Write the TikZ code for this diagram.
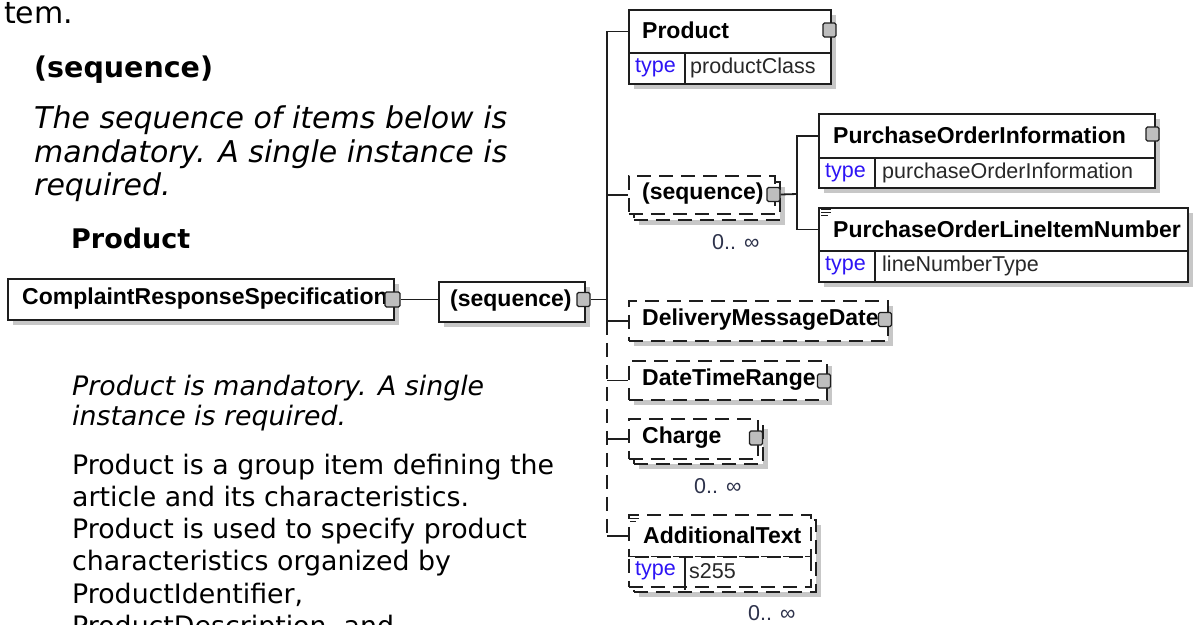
\documentclass[tikz,border=0pt]{standalone}
\usepackage{fontspec}
\setmainfont{DejaVu Sans}
\newfontfamily\dia{Liberation Sans}
\usetikzlibrary{shadows}
\definecolor{typeblue}{RGB}{45,20,245}
\definecolor{valcol}{RGB}{40,40,40}
\definecolor{occcol}{RGB}{45,50,75}
\definecolor{edge}{RGB}{30,30,30}
\definecolor{btnfill}{RGB}{190,190,190}
\tikzset{
  box/.style={draw=edge, line width=1.8pt, fill=white, inner sep=0pt, anchor=north west},
  dbox/.style={box, dash pattern=on 14pt off 8pt},
  shd/.style={drop shadow={shadow xshift=5pt, shadow yshift=-5pt, fill=black!22, opacity=1, draw=none}},
  btn/.style={draw=edge, line width=1.3pt, fill=btnfill, rounded corners=1.5pt, minimum width=13pt, minimum height=14pt, inner sep=0pt},
  lbl/.style={font=\dia\bfseries\fontsize{23}{27}\selectfont, anchor=west, inner sep=0pt},
  typ/.style={font=\dia\fontsize{21.5}{25}\selectfont, text=typeblue, anchor=west, inner sep=0pt},
  val/.style={font=\dia\fontsize{21.5}{25}\selectfont, text=valcol, anchor=west, inner sep=0pt},
  occ/.style={font=\dia\fontsize{21.5}{25}\selectfont, text=occcol, anchor=west, inner sep=0pt},
  conn/.style={draw=edge, line width=1.8pt},
  dconn/.style={conn, dash pattern=on 14pt off 8pt},
  divl/.style={draw=edge, line width=1.8pt},
  docl/.style={draw=edge, line width=0.9pt},
  txt/.style={anchor=base west, inner sep=0pt},
  body/.style={txt, font=\fontsize{26.8}{32}\selectfont},
  ibody/.style={txt, font=\itshape\fontsize{26.8}{30}\selectfont},
  itop/.style={txt, font=\itshape\fontsize{30}{33}\selectfont},
  head/.style={txt, font=\bfseries\fontsize{27}{32}\selectfont}
}
\begin{document}
\begin{tikzpicture}[x=1pt, y=-1pt]
\useasboundingbox (0,0) rectangle (1193,624);
\fill[white] (0,0) rectangle (1193,624);
\clip (0,0) rectangle (1193,624);

% ---------- left column text ----------
\node[txt, font=\fontsize{30}{34}\selectfont] (t0) at (4,23) {tem.};
\node[head, font=\bfseries\fontsize{28.5}{32}\selectfont] (h1) at (34,77) {(sequence)};
\node[itop] (i1) at (34,128) {The sequence of items below is};
\node[itop] (i2) at (34,162) {mandatory. A single instance is};
\node[itop] (i3) at (34,195) {required.};
\node[head] (h2) at (71,248) {Product};
\node[ibody] (j1) at (72,395) {Product is mandatory. A single};
\node[ibody] (j2) at (72,425) {instance is required.};
\node[body] (b1) at (72,474) {Product is a group item defining the};
\node[body] (b2) at (72,506) {article and its characteristics.};
\node[body] (b3) at (72,538) {Product is used to specify product};
\node[body] (b4) at (72,570) {characteristics organized by};
\node[body] (b5) at (72,603) {ProductIdentifier,};
\node[body] (b6) at (72,635) {ProductDescription, and};

% ---------- root element ----------
\node[box, shd, minimum width=386pt, minimum height=41pt] (crs) at (7,278) {};
\node[lbl] (crsL) at (22,299) {ComplaintResponseSpecification};
\node[btn, minimum width=15pt, minimum height=15pt] (crsB) at (392.5,299.5) {};

% ---------- outer sequence ----------
\node[box, shd, minimum width=146pt, minimum height=40pt] (seq1) at (438,281) {};
\node[lbl] (seq1L) at (450,301) {(sequence)};
\node[btn] (seq1B) at (583.5,299.5) {};
\draw[conn] (crsB.east) -- (crsB.east -| seq1.west);

% ---------- trunk ----------
\coordinate (tj) at (607,300);
\draw[conn] (seq1B.east) -- (seq1B.east -| tj);

% ---------- Product ----------
\node[box, shd, minimum width=202pt, minimum height=43pt] (prod) at (628,9) {};
\node[box, shd, minimum width=202pt, minimum height=31pt] (prodT) at (628,52) {};
\draw[divl] (685,52) -- (685,83);
\node[lbl] (prodL) at (642,30.5) {Product};
\node[typ] (prodTy) at (635,68) {type};
\node[val] (prodV) at (690,68) {productClass};
\node[btn] (prodB) at (829.5,30) {};

% ---------- inner sequence (0..inf) ----------
\node[dbox, shd, minimum width=146pt, minimum height=38pt] (seq2b) at (633,181) {};
\node[dbox, minimum width=146pt, minimum height=38pt] (seq2) at (628,175) {};
\node[lbl] (seq2L) at (642,194) {(sequence)};
\node[btn] (seq2B) at (773.5,194.5) {};
\node[occ] (seq2O) at (712,242) {0.. ∞};
\coordinate (br) at (797,194);
\draw[conn] (seq2B.east) -- (br);

% ---------- PurchaseOrderInformation ----------
\node[box, shd, minimum width=336pt, minimum height=44pt] (poi) at (818,113) {};
\node[box, shd, minimum width=336pt, minimum height=30pt] (poiT) at (818,157) {};
\draw[divl] (875,157) -- (875,187);
\node[lbl] (poiL) at (833,135) {PurchaseOrderInformation};
\node[typ] (poiTy) at (825,172.5) {type};
\node[val] (poiV) at (882,172.5) {purchaseOrderInformation};
\node[btn] (poiB) at (1152.5,134) {};

% ---------- PurchaseOrderLineItemNumber ----------
\node[box, shd, minimum width=369pt, minimum height=43pt] (poli) at (818,207) {};
\node[box, shd, minimum width=369pt, minimum height=31pt] (poliT) at (818,250) {};
\draw[divl] (875,250) -- (875,281);
\draw[docl] (821,209.5) -- (831,209.5) (821,212.5) -- (831,212.5) (821,215.5) -- (828,215.5);
\node[lbl] (poliL) at (833,229) {PurchaseOrderLineItemNumber};
\node[typ] (poliTy) at (825,266) {type};
\node[val] (poliV) at (882,266) {lineNumberType};

\draw[conn] (poi.west) -| (br) |- (poli.west);

% ---------- DeliveryMessageDate ----------
\node[dbox, shd, minimum width=259pt, minimum height=40pt] (dmd) at (628,300) {};
\node[lbl] (dmdL) at (642,320) {DeliveryMessageDate};
\node[btn] (dmdB) at (885,319.5) {};

% ---------- DateTimeRange ----------
\node[dbox, shd, minimum width=198pt, minimum height=39pt] (dtr) at (628,360) {};
\node[lbl] (dtrL) at (642,380) {DateTimeRange};
\node[btn] (dtrB) at (824,381) {};

% ---------- Charge (0..inf) ----------
\node[dbox, shd, minimum width=129pt, minimum height=40pt] (chgb) at (633,423) {};
\node[dbox, minimum width=129pt, minimum height=40pt] (chg) at (628,418) {};
\node[lbl] (chgL) at (642,438) {Charge};
\node[btn] (chgB) at (756,438) {};
\node[occ] (chgO) at (694,486) {0.. ∞};

% ---------- AdditionalText (0..inf) ----------
\node[dbox, shd, minimum width=182pt, minimum height=72pt] (atb) at (633,519) {};
\node[dbox, minimum width=182pt, minimum height=42pt] (at) at (628,514) {};
\node[dbox, minimum width=182pt, minimum height=30pt] (atT) at (628,556) {};
\draw[divl] (685,556) -- (685,590);
\draw[docl] (630,515.5) -- (639,515.5) (630,518.5) -- (639,518.5) (630,521.5) -- (636,521.5);
\node[lbl] (atL) at (643,535) {AdditionalText};
\node[typ] (atTy) at (635,571) {type};
\node[val] (atV) at (689,571) {s255};
\node[occ] (atO) at (748,613) {0.. ∞};

% ---------- trunk connectors ----------
\draw[conn] (prod.west) -| (tj) |- (dmd.west);
\draw[conn] (tj |- seq2.west) -- (seq2.west);
\draw[dconn] (tj |- dmd.west) -- (tj |- at.west);
\draw[conn] (tj |- dtr.west) -- (dtr.west);
\draw[conn] (tj |- chg.west) -- (chg.west);
\draw[conn] (tj |- at.west) -- (at.west);
\end{tikzpicture}
\end{document}
